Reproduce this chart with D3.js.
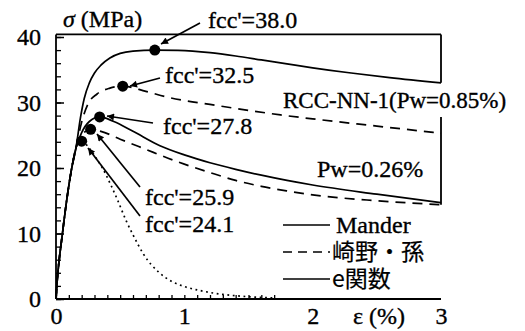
<!DOCTYPE html>
<html><head><meta charset="utf-8">
<script src="https://cdn.jsdelivr.net/npm/d3@7"></script>
<style>
html,body{margin:0;padding:0;background:#fff;}
svg{display:block;}
text{font-family:"Liberation Serif","Times New Roman",serif;fill:#000;stroke:#000;stroke-width:0.35px;}
.jp{font-family:"Noto Sans CJK JP",sans-serif;stroke-width:0.2px;}
</style></head><body>
<svg id="c" width="525" height="331"></svg>
<script>
// ---- data (strain %, stress MPa) ----
const ascending = [[0,0],[0.01,3],[0.025,6],[0.047,9.5],[0.08,14.6],[0.12,19.7],[0.155,23]];
const manderHigh = [[0.19,27.6],[0.22,30.6],[0.26,33],[0.3,34.5],[0.35,35.7],[0.42,36.8],[0.5,37.5],[0.6,37.85],[0.77,38.0],[0.95,37.95],[1.2,37.6],[1.4,37.1],[1.6,36.5],[1.8,35.9],[2.0,35.3],[2.3,34.5],[2.6,33.8],[3.0,33.0]];
const sakinoHigh = [[0.2,27],[0.25,29.8],[0.32,31.3],[0.42,32.2],[0.52,32.5],[0.7,31.7],[0.87,30.8],[1.0,30.3],[1.2,29.7],[1.5,28.8],[1.75,28.1],[2.0,27.5],[2.5,26.4],[3.0,25.3]];
const manderLow = [[0.2,25.4],[0.26,27.1],[0.34,27.8],[0.45,27.1],[0.6,25.6],[0.81,23.4],[1.0,22.0],[1.2,20.8],[1.4,19.8],[1.6,18.9],[1.8,18.1],[2.0,17.4],[2.5,16.0],[3.0,14.7]];
const sakinoLow = [[0.2,25.0],[0.27,25.9],[0.35,25.6],[0.5,24.4],[0.68,23.0],[0.94,21.0],[1.2,19.3],[1.4,18.1],[1.6,17.2],[1.8,16.5],[2.0,15.9],[2.5,15.0],[3.0,14.4]];
const eFunc = [[0.2,24.1],[0.26,23],[0.32,21.3],[0.37,19.7],[0.43,17.3],[0.48,15.1],[0.55,11.8],[0.6,9.8],[0.68,6.9],[0.8,4.1],[0.9,2.7],[1.0,1.9],[1.12,1.3],[1.3,0.7],[1.5,0.35],[1.7,0.15]];
const peaksStrain = [0.77, 0.52, 0.34, 0.27, 0.2];
const peaksStress = [38.0, 32.5, 27.8, 25.9, 24.1];
const yTickLabels = [0, 10, 20, 30, 40];
const xTickLabels = [0, 1, 2, 3];
const legendLabels = ["Mander", "崎野・孫", "e関数"];
const seriesNote = ["RCC-NN-1(Pw=0.85%)", "Pw=0.26%"];

const svg = d3.select("#c");
const x = d3.scaleLinear().domain([0, 3]).range([56, 441]);
const y = d3.scaleLinear().domain([0, 40]).range([299, 37]);

// minor ticks
const gy = svg.append("g").attr("transform", `translate(${x(0)},0)`)
  .call(d3.axisLeft(y).tickValues(d3.range(0, 41, 2)).tickSize(-5).tickFormat(""));
gy.select(".domain").remove();
gy.selectAll("line").attr("stroke-width", 1.3);
const gy2 = svg.append("g").attr("transform", `translate(${x(0)},0)`)
  .call(d3.axisLeft(y).tickValues(yTickLabels).tickSize(-8).tickPadding(15).tickFormat(d3.format("d")));
gy2.select(".domain").remove();
gy2.selectAll("line").attr("stroke-width", 1.5);
gy2.selectAll("text").attr("font-size", 24).attr("font-family", "Liberation Serif").attr("fill", "#000");

const gx = svg.append("g").attr("transform", `translate(0,${y(0)})`)
  .call(d3.axisBottom(x).tickValues(d3.range(0, 1.75, 0.1)).tickSize(-4).tickFormat(""));
gx.select(".domain").remove();
gx.selectAll("line").attr("stroke-width", 1.3);
const gx2 = svg.append("g").attr("transform", `translate(0,${y(0)})`)
  .call(d3.axisBottom(x).tickValues(xTickLabels).tickSize(0).tickFormat(d3.format("d")));
gx2.select(".domain").remove();
gx2.selectAll("text").attr("font-size", 24).attr("font-family", "Liberation Serif").attr("fill", "#000").attr("y", 25).attr("dy", 0);

// frame
const frame = svg.append("g").attr("stroke", "#000").attr("stroke-width", 1.8).attr("fill", "none");
frame.append("line").attr("x1", x(0)).attr("x2", x(0)).attr("y1", y(40.4)).attr("y2", y(0));
frame.append("line").attr("x1", x(0)).attr("x2", x(3)).attr("y1", y(0)).attr("y2", y(0));
frame.append("line").attr("x1", x(0)).attr("x2", x(3)).attr("y1", y(40.4)).attr("y2", y(40.4));
frame.append("line").attr("x1", x(3)).attr("x2", x(3)).attr("y1", y(40.4)).attr("y2", y(manderHigh[manderHigh.length-1][1]));
frame.append("line").attr("x1", x(3)).attr("x2", x(3)).attr("y1", y(27.8)).attr("y2", y(sakinoLow[sakinoLow.length-1][1]));

// curves
const line = d3.line().x(d => x(d[0])).y(d => y(d[1])).curve(d3.curveMonotoneX);
const curves = [
  {d: ascending.concat(manderHigh), dash: null},
  {d: ascending.concat(sakinoHigh), dash: "10,7"},
  {d: ascending.concat(manderLow), dash: null},
  {d: ascending.concat(sakinoLow), dash: "10,7"},
  {d: ascending.concat(eFunc), dash: "1.8,3.6"}
];
curves.forEach(c => {
  svg.append("path").attr("d", line(c.d)).attr("fill", "none").attr("stroke", "#000")
    .attr("stroke-width", 1.7).attr("stroke-dasharray", c.dash);
});

// peak dots
svg.selectAll("circle.pk").data(peaksStrain).enter().append("circle")
  .attr("cx", d => x(d)).attr("cy", (d, i) => y(peaksStress[i])).attr("r", 5.5).attr("fill", "#000");

// arrows
svg.append("defs").append("marker").attr("id", "ah").attr("viewBox", "0 0 10 10")
  .attr("refX", 10).attr("refY", 5).attr("markerWidth", 10).attr("markerHeight", 7)
  .attr("markerUnits", "userSpaceOnUse").attr("orient", "auto")
  .append("path").attr("d", "M0,0L10,5L0,10z").attr("fill", "#000");

const annot = [
  {tx: 208, ty: 28, ax: 200, ay: 23, bx: 161, by: 44},
  {tx: 165, ty: 83, ax: 160, ay: 78, bx: 130, by: 86},
  {tx: 163, ty: 134, ax: 153, ay: 123, bx: 107, by: 116},
  {tx: 145, ty: 205, ax: 140, ay: 187, bx: 97, by: 134},
  {tx: 145, ty: 232, ax: 140, ay: 216, bx: 88, by: 148}
];
annot.forEach((a, i) => {
  svg.append("line").attr("x1", a.ax).attr("y1", a.ay).attr("x2", a.bx).attr("y2", a.by)
    .attr("stroke", "#000").attr("stroke-width", 1.7).attr("marker-end", "url(#ah)");
  svg.append("text").attr("x", a.tx).attr("y", a.ty).attr("font-size", 24)
    .text("fcc'=" + peaksStress[i].toFixed(1));
});

// notes
svg.append("text").attr("x", 283).attr("y", 108).attr("font-size", 23).text(seriesNote[0]);
svg.append("text").attr("x", 317).attr("y", 177).attr("font-size", 24).text(seriesNote[1]);

// axis titles
const t1 = svg.append("text").attr("x", 63).attr("y", 27).attr("font-size", 24);
t1.append("tspan").attr("font-style", "italic").text("σ");
t1.append("tspan").text(" (MPa)");
svg.append("text").attr("x", 353).attr("y", 324).attr("font-size", 24).text("ε (%)");

// legend
const legDash = [null, "9,6", null];
const legY = [225, 252, 279];
legendLabels.forEach((l, i) => {
  const ly = legY[i];
  svg.append("line").attr("x1", 283).attr("x2", 330).attr("y1", ly).attr("y2", ly)
    .attr("stroke", "#000").attr("stroke-width", 1.7).attr("stroke-dasharray", legDash[i]);
  svg.append("text").attr("x", i > 0 ? 332 : 336).attr("y", ly + 8)
    .attr("font-size", i > 0 ? 23 : 24).attr("class", i > 0 ? "jp" : null).text(l);
});
</script></body></html>
